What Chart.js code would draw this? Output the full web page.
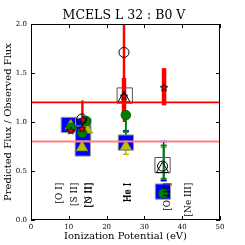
<!DOCTYPE html>
<html>
<head>
<meta charset="utf-8">
<script src="https://cdn.jsdelivr.net/npm/chart.js@4"></script>
<style>
  html, body { margin: 0; padding: 0; background: #fff; }
</style>
</head>
<body>
<canvas id="chart" width="245" height="245"></canvas>
<script>
// values (x = ionization potential in eV, y = predicted / observed)

const openCircleX = [13.4, 24.6, 34.8];
const openCircleY = [1.03, 1.71, 0.55];

const openSquareX = [24.8, 34.8];
const openSquareY = [1.27, 0.56];

const openTriangleX = [24.6, 34.8];
const openTriangleY = [1.24, 0.52];

const starX = [10.5, 13.5, 13.8, 24.6, 35.2];
const starY = [0.91, 0.93, 1.02, 1.26, 1.35];

const greenX = [10.6, 13.5, 14.6, 25.1, 35.0];
const greenY = [0.94, 0.89, 1.01, 1.07, 0.27];

const yellowX = [10.5, 14.8, 13.5, 25.1];
const yellowY = [0.96, 0.92, 0.74, 0.75];

const blueX = [10.0, 13.8, 13.8, 13.7, 25.1, 34.9];
const blueY = [0.97, 0.96, 0.88, 0.73, 0.79, 0.29];

// error bars
const redThickX = [24.6, 35.2];
const redThickLo = [1.05, 1.17];
const redThickHi = [1.45, 1.55];

const redThinX = [24.6, 13.6, 10.5, 13.5];
const redThinLo = [1.00, 1.00, 0.88, 0.90];
const redThinHi = [2.30, 1.22, 0.95, 0.96];

const greenErrX = [25.1, 35.1];
const greenErrLo = [0.90, 0.42];
const greenErrHi = [1.07, 0.76];

const blueErrX = [25.1, 35.1];
const blueErrLo = [0.80, 0.40];
const blueErrHi = [0.91, 0.80];

const yellowErrX = [25.1, 35.1];
const yellowErrLo = [0.67, 0.41];
const yellowErrHi = [0.78, 0.74];

// reference levels
const limitHigh = 1.2;
const limitLow = 0.8;

// line labels
const lineLabels = ['[O I]', '[S II]', '[N II]', '[O II]', 'He I', 'He I', '[O III]', '[Ne III]'];
const lineLabelX = [7.6, 11.6, 15.3, 15.5, 25.5, 25.8, 36.1, 41.7];
const labelTop = 0.38;

const xTicksMax = 50;
const yTicksMax = 2;

// --------------------------------------------------------------

Chart.defaults.font.family = '"DejaVu Serif", serif';
Chart.defaults.color = '#000';

const pts = (xs, ys) => xs.map((x, i) => ({x: x, y: ys[i]}));

function makeStar(r, fill, edge) {
    const c = document.createElement('canvas');
    const s = Math.ceil(r * 2 + 2);
    c.width = s;
    c.height = s;
    const g = c.getContext('2d');
    g.beginPath();
    for (let i = 0; i < 10; i++) {
        const rr = i % 2 ? r * 0.42 : r;
        const a = -Math.PI / 2 + i * Math.PI / 5;
        g.lineTo(s / 2 + rr * Math.cos(a), s / 2 + rr * Math.sin(a));
    }
    g.closePath();
    g.fillStyle = fill;
    g.fill();
    g.lineWidth = 0.8;
    g.strokeStyle = edge;
    g.stroke();
    return c;
}

const errorGroups = [
    {x: yellowErrX, lo: yellowErrLo, hi: yellowErrHi, color: '#bfbf00', width: 1.5, cap: 3},
    {x: blueErrX, lo: blueErrLo, hi: blueErrHi, color: '#0000ff', width: 1.5, cap: 3},
    {x: greenErrX, lo: greenErrLo, hi: greenErrHi, color: '#008000', width: 2, cap: 3},
    {x: redThinX, lo: redThinLo, hi: redThinHi, color: '#ff0000', width: 2.5, cap: 0},
    {x: redThickX, lo: redThickLo, hi: redThickHi, color: '#ff0000', width: 4.5, cap: 0},
];

const matplotlibLook = {
    id: 'matplotlibLook',
    beforeDatasetsDraw(chart) {
        const {ctx, chartArea, scales: {x, y}} = chart;
        ctx.save();
        ctx.beginPath();
        ctx.rect(chartArea.left, chartArea.top, chartArea.width, chartArea.height);
        ctx.clip();
        errorGroups.forEach(g => {
            ctx.strokeStyle = g.color;
            ctx.lineWidth = g.width;
            g.x.forEach((xv, i) => {
                const px = x.getPixelForValue(xv);
                const p1 = y.getPixelForValue(g.lo[i]);
                const p2 = y.getPixelForValue(g.hi[i]);
                ctx.beginPath();
                ctx.moveTo(px, p1);
                ctx.lineTo(px, p2);
                if (g.cap) {
                    ctx.moveTo(px - g.cap, p1);
                    ctx.lineTo(px + g.cap, p1);
                    ctx.moveTo(px - g.cap, p2);
                    ctx.lineTo(px + g.cap, p2);
                }
                ctx.stroke();
            });
        });
        ctx.restore();
    },
    afterDatasetsDraw(chart) {
        const {ctx, chartArea, scales: {x, y}} = chart;
        const {left, right, top, bottom} = chartArea;

        // rotated line names
        ctx.save();
        ctx.font = '9px "DejaVu Serif"';
        ctx.fillStyle = '#000';
        ctx.textAlign = 'right';
        ctx.textBaseline = 'middle';
        lineLabels.forEach((t, i) => {
            ctx.save();
            ctx.translate(x.getPixelForValue(lineLabelX[i]), y.getPixelForValue(labelTop));
            ctx.rotate(-Math.PI / 2);
            ctx.fillText(t, 0, 0);
            ctx.restore();
        });
        ctx.restore();

        // frame and inward ticks on all sides
        ctx.save();
        ctx.strokeStyle = '#000';
        ctx.lineWidth = 1;
        ctx.beginPath();
        x.ticks.forEach(t => {
            const px = Math.round(x.getPixelForValue(t.value)) + 0.5;
            ctx.moveTo(px, bottom);
            ctx.lineTo(px, bottom - 4);
            ctx.moveTo(px, top);
            ctx.lineTo(px, top + 4);
        });
        y.ticks.forEach(t => {
            const py = Math.round(y.getPixelForValue(t.value)) + 0.5;
            ctx.moveTo(left, py);
            ctx.lineTo(left + 4, py);
            ctx.moveTo(right, py);
            ctx.lineTo(right - 4, py);
        });
        ctx.stroke();
        ctx.strokeRect(Math.round(left) + 0.5, Math.round(top) + 0.5,
            Math.round(right - left) - 1, Math.round(bottom - top) - 1);
        ctx.restore();
    }
};

new Chart(document.getElementById('chart').getContext('2d'), {
    type: 'scatter',
    data: {
        datasets: [
            {
                label: 'upper',
                data: [{x: 0, y: limitHigh}, {x: xTicksMax, y: limitHigh}],
                showLine: true,
                borderColor: '#ff0000',
                borderWidth: 1.8,
                pointRadius: 0,
                order: 1
            },
            {
                label: 'lower',
                data: [{x: 0, y: limitLow}, {x: xTicksMax, y: limitLow}],
                showLine: true,
                borderColor: '#ff8080',
                borderWidth: 2,
                pointRadius: 0,
                order: 1
            },
            {
                label: 'open circle',
                data: pts(openCircleX, openCircleY),
                pointStyle: 'circle',
                pointRadius: 5,
                backgroundColor: 'rgba(0,0,0,0)',
                borderColor: '#000',
                borderWidth: 1,
                order: 2
            },
            {
                label: 'open triangle',
                data: pts(openTriangleX, openTriangleY),
                pointStyle: 'triangle',
                pointRadius: 7,
                backgroundColor: 'rgba(0,0,0,0)',
                borderColor: '#000',
                borderWidth: 1,
                order: 3
            },
            {
                label: 'star',
                data: pts(starX, starY),
                pointStyle: makeStar(4, '#ff0000', '#000'),
                order: 4
            },
            {
                label: 'green',
                data: pts(greenX, greenY),
                pointStyle: 'circle',
                pointRadius: 4.8,
                backgroundColor: '#008000',
                borderColor: '#005500',
                borderWidth: 0.8,
                order: 5
            },
            {
                label: 'yellow',
                data: pts(yellowX, yellowY),
                pointStyle: 'triangle',
                pointRadius: 6.5,
                backgroundColor: '#bfbf00',
                borderColor: '#a0a000',
                borderWidth: 0.8,
                order: 6
            },
            {
                label: 'open square',
                data: pts(openSquareX, openSquareY),
                pointStyle: 'rect',
                pointRadius: 10.8,
                backgroundColor: 'rgba(0,0,0,0)',
                borderColor: '#555',
                borderWidth: 1,
                order: 7
            },
            {
                label: 'blue',
                data: pts(blueX, blueY),
                pointStyle: 'rect',
                pointRadius: 10.8,
                backgroundColor: '#0000ff',
                borderColor: '#9a9a9a',
                borderWidth: 1,
                order: 8
            }
        ]
    },
    options: {
        responsive: false,
        animation: false,
        layout: {
            padding: {left: 3, right: 0, top: 0, bottom: 0}
        },
        plugins: {
            legend: {display: false},
            tooltip: {enabled: false},
            title: {
                display: true,
                text: 'MCELS L 32 : B0 V',
                font: {size: 12.5, weight: 'normal'},
                padding: {top: 8.5, bottom: 0.5}
            }
        },
        scales: {
            x: {
                type: 'linear',
                min: 0,
                max: xTicksMax,
                ticks: {stepSize: 10, padding: 3, font: {size: 7}},
                grid: {display: false, drawTicks: false},
                border: {display: false},
                title: {
                    display: true,
                    text: 'Ionization Potential (eV)',
                    font: {size: 10},
                    padding: {top: 0, bottom: 2.5}
                },
                afterFit(s) { s.height = 25; }
            },
            y: {
                type: 'linear',
                min: 0,
                max: yTicksMax,
                ticks: {stepSize: 0.5, padding: 4, font: {size: 7}, callback: v => v.toFixed(1)},
                grid: {display: false, drawTicks: false},
                border: {display: false},
                title: {
                    display: true,
                    text: 'Predicted Flux / Observed Flux',
                    font: {size: 10},
                    padding: {top: -1, bottom: 0}
                },
                afterFit(s) { s.width = 28; }
            },
            yRight: {
                type: 'linear',
                position: 'right',
                min: 0,
                max: yTicksMax,
                ticks: {display: false},
                grid: {display: false, drawTicks: false},
                border: {display: false},
                afterFit(s) { s.width = 25; }
            }
        }
    },
    plugins: [matplotlibLook]
});
</script>
</body>
</html>
